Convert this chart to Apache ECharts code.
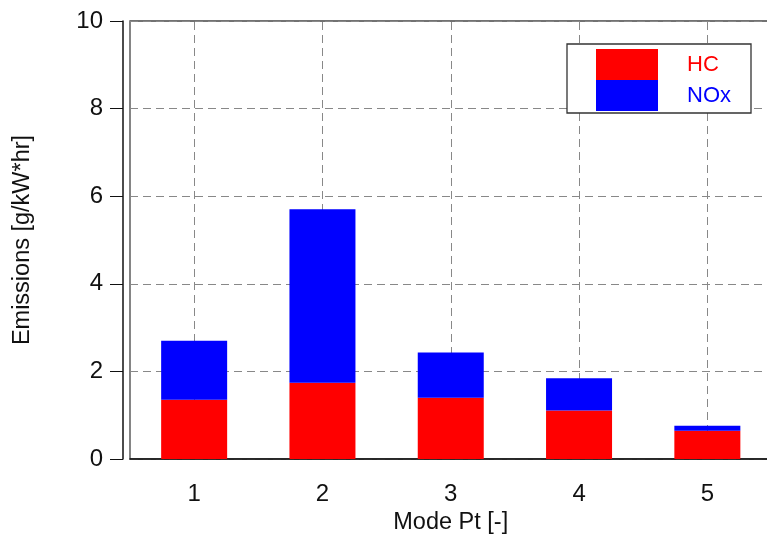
<!DOCTYPE html>
<html>
<head>
<meta charset="utf-8">
<script src="https://cdn.jsdelivr.net/npm/echarts@6/dist/echarts.min.js"></script>
<style>html,body{margin:0;padding:0;background:#fff}#c{width:767px;height:535px}</style>
</head>
<body>
<div id="c"></div>
<script>
const categories = ['1', '2', '3', '4', '5'];
const hcValues = [1.35, 1.74, 1.40, 1.11, 0.645];
const noxValues = [1.35, 3.96, 1.03, 0.735, 0.115];
const yTicks = { min: 0, max: 10, interval: 2 };

const chart = echarts.init(document.getElementById('c'), null, { renderer: 'canvas' });
const font = 'Liberation Sans, Arial, sans-serif';
const gridDash = { color: '#888', width: 1, type: [8, 5] };

chart.setOption({
  animation: false,
  backgroundColor: '#fff',
  grid: {
    left: 130, top: 21, right: -4.5, bottom: 76,
    show: true, borderColor: '#444', borderWidth: 1.3, backgroundColor: 'transparent',
    outerBoundsMode: 'none'
  },
  legend: {
    orient: 'vertical',
    left: 567, top: 44,
    padding: [5, 20, 2, 29],
    itemWidth: 62, itemHeight: 31, itemGap: 0,
    backgroundColor: '#fff', borderColor: '#333', borderWidth: 1.3,
    icon: 'rect',
    data: [
      { name: 'HC', textStyle: { color: '#ff0000' } },
      { name: 'NOx', textStyle: { color: '#0000ff' } }
    ],
    textStyle: { fontFamily: font, fontSize: 22, padding: [0, 0, 0, 24] }
  },
  xAxis: {
    type: 'category',
    data: categories,
    offset: 5,
    name: 'Mode Pt [-]',
    nameLocation: 'middle',
    nameGap: 46,
    nameTextStyle: { fontFamily: font, fontSize: 23.5, color: '#111' },
    axisLine: { lineStyle: { color: '#111', width: 1.5 } },
    axisTick: { alignWithLabel: true, length: 13, lineStyle: { color: '#111' } },
    axisLabel: { fontFamily: font, fontSize: 24, color: '#111', margin: 18 },
    splitLine: { show: false }
  },
  yAxis: {
    type: 'value',
    min: yTicks.min, max: yTicks.max, interval: yTicks.interval,
    offset: 7,
    name: 'Emissions [g/kW*hr]',
    nameLocation: 'middle',
    nameGap: 88,
    nameTextStyle: { fontFamily: font, fontSize: 23.5, color: '#111' },
    axisLine: { show: true, lineStyle: { color: '#111', width: 1.5 } },
    axisTick: { show: true, length: 13, lineStyle: { color: '#111' } },
    axisLabel: { fontFamily: font, fontSize: 24, color: '#111', margin: 20 },
    splitLine: { show: true, lineStyle: gridDash }
  },
  series: [
    {
      name: 'HC', type: 'bar', stack: 'em', data: hcValues,
      barWidth: 66, itemStyle: { color: '#ff0000' }, z: 3,
      markLine: {
        silent: true, symbol: 'none', z: 1,
        label: { show: false },
        lineStyle: gridDash,
        data: categories.map(c => ({ xAxis: c }))
      }
    },
    {
      name: 'NOx', type: 'bar', stack: 'em', data: noxValues,
      barWidth: 66, itemStyle: { color: '#0000ff' }, z: 3
    }
  ]
});
</script>
</body>
</html>
